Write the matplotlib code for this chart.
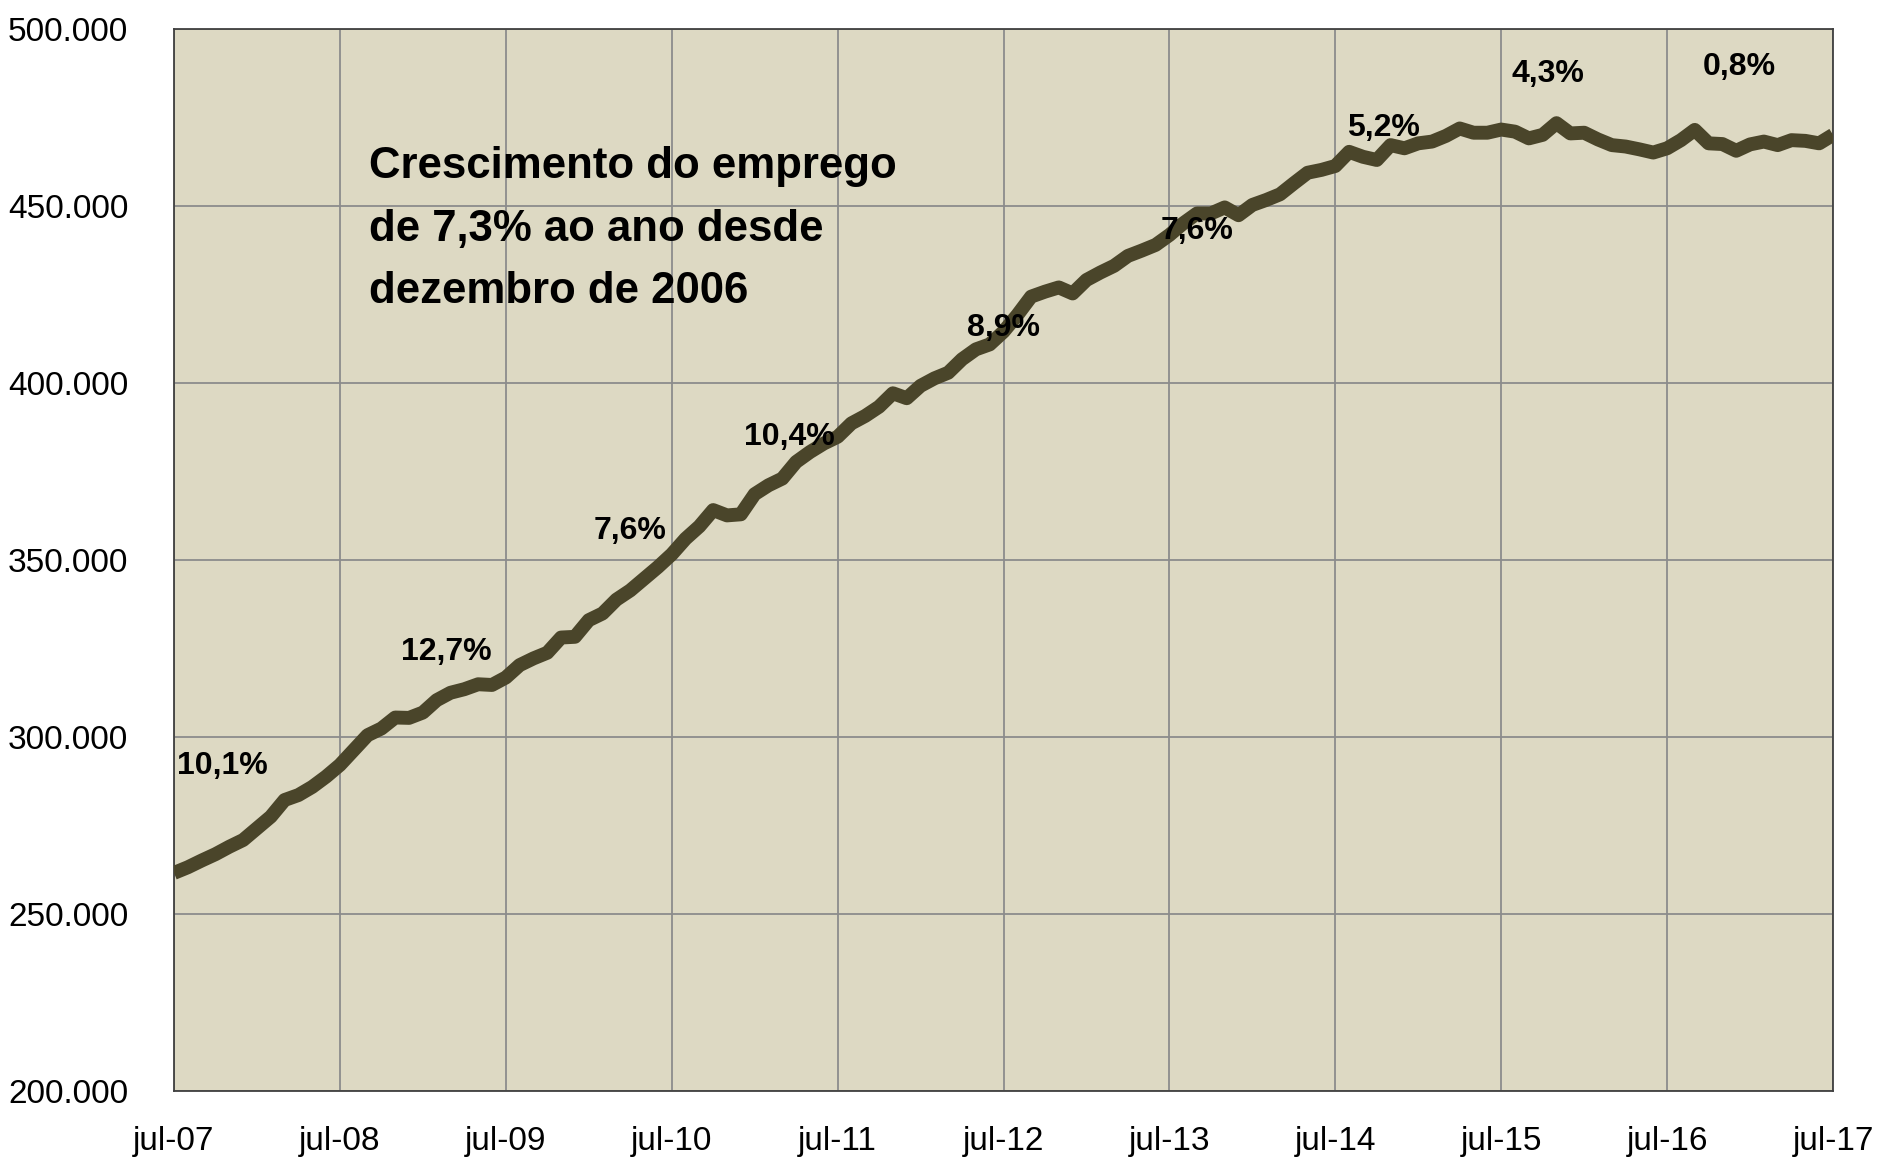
#!/usr/bin/env python3
"""
Emprego mensal jul-07 a jul-17 com taxas de crescimento anuais
"""

import matplotlib.pyplot as plt
from matplotlib.ticker import FuncFormatter

# monthly employment (thousands), jul-07 .. jul-17
emprego = [
    261.6, 263.2, 265.1, 266.9, 269.0, 270.9, 274.2, 277.5, 282.2, 283.6, 285.9, 288.8,
    292.1, 296.3, 300.5, 302.4, 305.5, 305.4, 306.9, 310.4, 312.5, 313.5, 314.9, 314.7,
    316.8, 320.3, 322.2, 323.8, 328.1, 328.3, 333.0, 334.9, 338.8, 341.4, 344.7, 348.0,
    351.6, 356.0, 359.5, 364.1, 362.6, 362.9, 368.6, 371.1, 373.0, 377.7, 380.5, 382.9,
    384.8, 388.6, 390.7, 393.3, 397.1, 395.7, 399.2, 401.3, 402.9, 406.7, 409.5, 410.9,
    414.5, 419.2, 424.4, 425.8, 427.0, 425.3, 429.1, 431.2, 433.1, 435.9, 437.4, 439.0,
    441.8, 445.1, 447.9, 447.9, 449.6, 447.4, 450.3, 451.7, 453.3, 456.4, 459.4, 460.2,
    461.3, 465.3, 463.9, 463.0, 467.2, 466.3, 467.7, 468.2, 469.8, 471.9, 470.7, 470.7,
    471.6, 471.0, 469.1, 470.1, 473.4, 470.5, 470.7, 468.8, 467.2, 466.8, 466.0, 465.1,
    466.3, 468.6, 471.5, 467.7, 467.5, 465.6, 467.4, 468.2, 467.2, 468.6, 468.4, 467.7,
    470.1,
]
emprego = [v * 1000 for v in emprego]

anos = ['jul-07', 'jul-08', 'jul-09', 'jul-10', 'jul-11', 'jul-12',
        'jul-13', 'jul-14', 'jul-15', 'jul-16', 'jul-17']

# annual growth labels and where they sit (month index, value)
taxas = ['10,1%', '12,7%', '7,6%', '10,4%', '8,9%', '7,6%', '5,2%', '4,3%', '0,8%']
taxa_mes = [3.5, 19.7, 33.0, 44.5, 60.0, 74.0, 87.5, 99.4, 113.2]
taxa_val = [291800, 324000, 358200, 384700, 415500, 442900, 472000, 487300, 489200]

plt.rcParams['font.family'] = ['Liberation Sans', 'DejaVu Sans']

fig = plt.figure(figsize=(18.78, 11.62), dpi=100)
ax = fig.add_axes([174 / 1878, 71 / 1162, 1659 / 1878, 1062 / 1162])
ax.set_facecolor('#DDD9C3')

meses = list(range(len(emprego)))
ax.plot(meses, emprego, color='#4A452A', linewidth=10, solid_joinstyle='round',
        solid_capstyle='butt', zorder=3)

ax.set_xlim(0, 120)
ax.set_ylim(200000, 500000)
ax.set_xticks(range(0, 121, 12))
ax.set_xticklabels(anos)
ax.set_yticks(range(200000, 500001, 50000))
ax.yaxis.set_major_formatter(FuncFormatter(lambda v, p: f'{int(v):,}'.replace(',', '.')))

ax.grid(True, color='#8C8C8C', linewidth=1.3, zorder=1)
ax.set_axisbelow(True)
ax.tick_params(axis='both', length=0, labelsize=24, colors='black')
ax.tick_params(axis='y', pad=33)
ax.tick_params(axis='x', pad=25)
for s in ax.spines.values():
    s.set_color('#404040')
    s.set_linewidth(1.3)

for t, m, v in zip(taxas, taxa_mes, taxa_val):
    ax.text(m, v, t, fontsize=23, fontweight='bold', ha='center', va='center', zorder=4)

ax.text(14.1, 443500, 'Crescimento do emprego\nde 7,3% ao ano desde\ndezembro de 2006',
        fontsize=31.5, fontweight='bold', ha='left', va='center', linespacing=1.67, zorder=4)

fig.savefig('out.png', dpi=100, facecolor='white')
plt.close(fig)
